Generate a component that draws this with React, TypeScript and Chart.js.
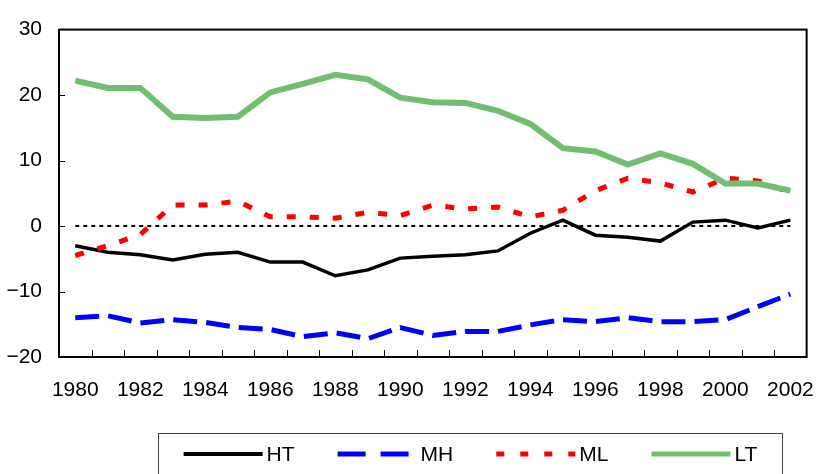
import React, { useEffect, useRef } from "react";
import { Chart, registerables } from "chart.js";

Chart.register(...registerables);

const years = [
  "1980", "1981", "1982", "1983", "1984", "1985", "1986", "1987", "1988", "1989", "1990", "1991",
  "1992", "1993", "1994", "1995", "1996", "1997", "1998", "1999", "2000", "2001", "2002",
];
const xTickLabels = [
  "1980", "", "1982", "", "1984", "", "1986", "", "1988", "", "1990", "",
  "1992", "", "1994", "", "1996", "", "1998", "", "2000", "", "2002",
];
const htValues = [
  -3.0, -4.0, -4.4, -5.2, -4.3, -4.0, -5.5, -5.5, -7.6, -6.7, -4.9, -4.6,
  -4.4, -3.8, -1.1, 0.9, -1.4, -1.7, -2.3, 0.6, 0.9, -0.3, 0.9,
];
const mhValues = [
  -14.0, -13.7, -14.8, -14.3, -14.7, -15.5, -15.8, -16.9, -16.3, -17.2, -15.5, -16.7,
  -16.1, -16.1, -15.1, -14.3, -14.6, -14.0, -14.6, -14.6, -14.3, -12.3, -10.4,
];
const mlValues = [
  -4.5, -3.0, -1.3, 3.2, 3.2, 3.8, 1.4, 1.4, 1.2, 2.1, 1.6, 3.2,
  2.6, 2.9, 1.4, 2.4, 5.4, 7.3, 6.6, 5.2, 7.3, 6.9, 5.1,
];
const ltValues = [
  22.2, 21.1, 21.1, 16.7, 16.5, 16.7, 20.4, 21.7, 23.1, 22.4, 19.6, 18.9,
  18.8, 17.6, 15.6, 11.9, 11.4, 9.4, 11.1, 9.5, 6.5, 6.5, 5.4,
];
const zeroValues = years.map(() => 0);
const yTickValues = [-20, -10, 0, 10, 20, 30];

const FONT = '"Liberation Sans", Arial, sans-serif';

const legendItems = [
  { label: "HT", color: "#000000", width: 4, dash: [] as number[] },
  { label: "MH", color: "#0000ff", width: 5, dash: [28, 15] },
  { label: "ML", color: "#ff0000", width: 5, dash: [8, 16] },
  { label: "LT", color: "#6fbf6f", width: 5, dash: [] as number[] },
];

export default function App() {
  const ref = useRef<HTMLCanvasElement>(null);

  useEffect(() => {
    if (!ref.current) return;

    const framePlugin = {
      id: "framePlugin",
      afterDraw(chart: any) {
        const { ctx, chartArea } = chart;
        const { left, right, top, bottom } = chartArea;
        const xs = chart.scales.x;
        const ys = chart.scales.y;
        ctx.save();
        // inward ticks on x axis
        ctx.strokeStyle = "#000";
        ctx.lineWidth = 1;
        const half = (xs.getPixelForValue(1) - xs.getPixelForValue(0)) / 2;
        for (let i = 1; i < years.length; i++) {
          const px = Math.round(xs.getPixelForValue(i) - half) + 0.5;
          ctx.beginPath();
          ctx.moveTo(px, bottom);
          ctx.lineTo(px, bottom - 7);
          ctx.stroke();
        }
        // inward ticks on y axis
        for (const v of yTickValues) {
          if (v === -20 || v === 30) continue;
          const py = Math.round(ys.getPixelForValue(v)) + 0.5;
          ctx.beginPath();
          ctx.moveTo(left, py);
          ctx.lineTo(left + 6, py);
          ctx.stroke();
        }
        // frame
        ctx.lineWidth = 2;
        ctx.strokeStyle = "#000";
        ctx.strokeRect(left, top, right - left, bottom - top);

        // legend
        ctx.font = `21px ${FONT}`;
        ctx.textBaseline = "middle";
        ctx.textAlign = "left";
        const lineLen = 79;
        const gapLineText = 4;
        const gapItems = 43;
        let total = 0;
        legendItems.forEach((it, i) => {
          total += lineLen + gapLineText + ctx.measureText(it.label).width;
          if (i < legendItems.length - 1) total += gapItems;
        });
        const boxL = 158.5;
        const boxR = 782.5;
        const boxT = 433.5;
        ctx.lineWidth = 1;
        ctx.strokeStyle = "#444";
        ctx.strokeRect(boxL, boxT, boxR - boxL, 60);
        let x = (boxL + boxR) / 2 - total / 2;
        const ly = 454;
        legendItems.forEach((it) => {
          ctx.save();
          ctx.strokeStyle = it.color;
          ctx.lineWidth = it.width;
          ctx.setLineDash(it.dash);
          ctx.lineCap = "butt";
          ctx.beginPath();
          ctx.moveTo(x, ly);
          ctx.lineTo(x + lineLen, ly);
          ctx.stroke();
          ctx.restore();
          x += lineLen + gapLineText;
          ctx.fillStyle = "#000";
          ctx.fillText(it.label, x, ly + 1);
          x += ctx.measureText(it.label).width + gapItems;
        });
        ctx.restore();
      },
    };

    const chart = new Chart(ref.current, {
      type: "line",
      data: {
        labels: years,
        datasets: [
          {
            label: "HT",
            data: htValues,
            borderColor: "#000000",
            borderWidth: 3.5,
            pointRadius: 0,
            order: 4,
          },
          {
            label: "MH",
            data: mhValues,
            borderColor: "#0000ff",
            borderWidth: 5,
            borderDash: [24, 9],
            pointRadius: 0,
            order: 3,
          },
          {
            label: "ML",
            data: mlValues,
            borderColor: "#ff0000",
            borderWidth: 5,
            borderDash: [9, 14],
            pointRadius: 0,
            order: 2,
          },
          {
            label: "LT",
            data: ltValues,
            borderColor: "#6fbf6f",
            borderWidth: 6,
            pointRadius: 0,
            order: 1,
          },
          {
            label: "zero",
            data: zeroValues,
            borderColor: "#000000",
            borderWidth: 2,
            borderDash: [4, 4],
            pointRadius: 0,
            order: 5,
          },
        ],
      },
      options: {
        animation: false,
        responsive: false,
        maintainAspectRatio: false,
        layout: { padding: { top: 15, right: 12, left: 0, bottom: 0 } },
        plugins: {
          legend: { display: false },
          tooltip: { enabled: false },
        },
        elements: { line: { tension: 0, borderCapStyle: "butt", borderJoinStyle: "miter" } },
        scales: {
          x: {
            type: "category",
            offset: true,
            grid: { display: false, drawTicks: false, offset: true },
            border: { display: false },
            ticks: {
              autoSkip: false,
              maxRotation: 0,
              padding: 21,
              color: "#000",
              font: { family: FONT, size: 21 },
              callback: (_v: any, i: number) => xTickLabels[i],
            },
            afterFit: (scale: any) => {
              scale.height = 117;
            },
          },
          y: {
            min: -20,
            max: 30,
            grid: { display: false, drawTicks: false },
            border: { display: false },
            ticks: {
              stepSize: 10,
              padding: 17,
              color: "#000",
              font: { family: FONT, size: 21 },
              callback: (v: any) => (Number(v) < 0 ? "\u2212" + Math.abs(Number(v)) : String(v)),
            },
            afterFit: (scale: any) => {
              scale.width = 59;
            },
          },
        },
      },
      plugins: [framePlugin],
    });

    return () => chart.destroy();
  }, []);

  return (
    <div style={{ position: "absolute", left: 0, top: 0, width: 835, height: 474, background: "#fff" }}>
      <canvas ref={ref} width={835} height={474} style={{ width: 835, height: 474, display: "block" }} />
    </div>
  );
}
